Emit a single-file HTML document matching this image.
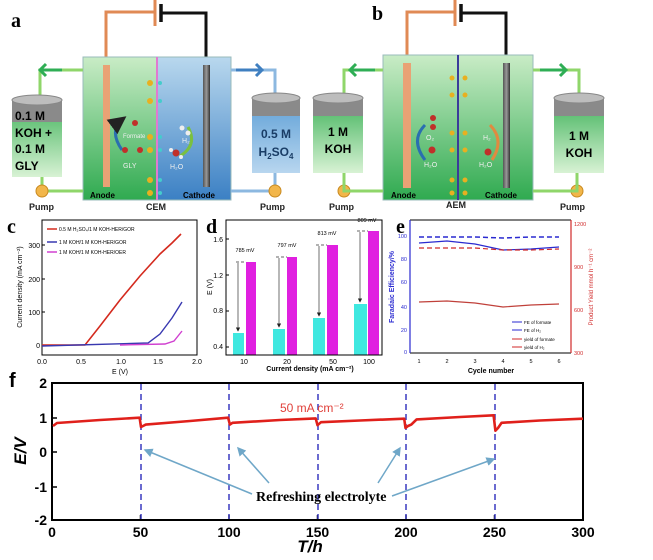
<!DOCTYPE html>
<html><head><meta charset="utf-8"><style>
html,body{margin:0;padding:0;background:#fff;}
svg{display:block;font-family:"Liberation Sans",sans-serif;}
</style></head><body>
<svg width="653" height="560" viewBox="0 0 653 560" xmlns="http://www.w3.org/2000/svg">
<defs>
<linearGradient id="gL" x1="0" y1="0" x2="0" y2="1"><stop offset="0" stop-color="#c9ecc6"/><stop offset="1" stop-color="#2faa50"/></linearGradient>
<linearGradient id="gB" x1="0" y1="0" x2="0" y2="1"><stop offset="0" stop-color="#b9d8ee"/><stop offset="1" stop-color="#3b80c4"/></linearGradient>
<linearGradient id="tG" x1="0" y1="0" x2="0" y2="1"><stop offset="0" stop-color="#3fb25a"/><stop offset="1" stop-color="#d8f2d4"/></linearGradient>
<linearGradient id="tB" x1="0" y1="0" x2="0" y2="1"><stop offset="0" stop-color="#5d9fd6"/><stop offset="1" stop-color="#b8d6ef"/></linearGradient>
<linearGradient id="cat" x1="0" y1="0" x2="1" y2="0"><stop offset="0" stop-color="#555"/><stop offset="0.5" stop-color="#999"/><stop offset="1" stop-color="#333"/></linearGradient>
<marker id="ah" markerWidth="6" markerHeight="6" refX="5" refY="3" orient="auto"><path d="M0,0 L6,3 L0,6 z" fill="#6fa7c8"/></marker>
<marker id="ak" markerWidth="6" markerHeight="6" refX="5" refY="3" orient="auto"><path d="M0,0 L6,3 L0,6 z" fill="#222"/></marker>
</defs>

<!-- ============ Panel a ============ -->
<text x="11" y="27" font-family="Liberation Serif" font-weight="bold" font-size="20">a</text>
<path d="M106,65 V12 H155" stroke="#e08a55" stroke-width="3" fill="none"/>
<line x1="155" y1="0" x2="155" y2="26" stroke="#e08a55" stroke-width="3"/>
<line x1="161" y1="4" x2="161" y2="22" stroke="#111" stroke-width="3.5"/>
<path d="M161,13 H206 V65" stroke="#111" stroke-width="3" fill="none"/>
<rect x="83" y="57" width="74" height="143" fill="url(#gL)" stroke="#9bb" stroke-width="1"/>
<rect x="157" y="57" width="74" height="143" fill="url(#gB)" stroke="#9bb" stroke-width="1"/>
<line x1="157" y1="57" x2="157" y2="200" stroke="#e07ad0" stroke-width="2"/>
<rect x="103" y="65" width="7" height="122" fill="#e9a275"/>
<rect x="203" y="65" width="7" height="122" fill="url(#cat)"/>
<g fill="#e8b020"><circle cx="150" cy="83" r="3"/><circle cx="150" cy="101" r="3"/><circle cx="150" cy="137" r="3"/><circle cx="150" cy="150" r="3"/><circle cx="150" cy="180" r="3"/><circle cx="150" cy="193" r="3"/></g>
<g fill="#4cc"><circle cx="160" cy="83" r="2"/><circle cx="160" cy="101" r="2"/><circle cx="160" cy="137" r="2"/><circle cx="160" cy="150" r="2"/><circle cx="160" cy="180" r="2"/><circle cx="160" cy="193" r="2"/></g>
<path d="M122,150 Q108,130 124,118" stroke="#2a6fb0" stroke-width="3" fill="none" marker-end="url(#ak)"/>
<path d="M188,127 Q198,145 180,156" stroke="#7ac040" stroke-width="3" fill="none"/>
<g fill="#c0302a"><circle cx="135" cy="123" r="3"/><circle cx="125" cy="150" r="3"/><circle cx="140" cy="150" r="3"/><circle cx="176" cy="153" r="3.5"/></g>
<g fill="#eee"><circle cx="182" cy="128" r="2.5"/><circle cx="188" cy="133" r="2.5"/><circle cx="171" cy="150" r="2"/><circle cx="181" cy="157" r="2"/></g>
<text x="123" y="138" font-size="6" fill="#eee">Formate</text>
<text x="123" y="168" font-size="7" fill="#eee">GLY</text>
<text x="182" y="143" font-size="7" fill="#eee">H₂</text>
<text x="170" y="169" font-size="7" fill="#eee">H₂O</text>
<text x="90" y="198" font-size="8" font-weight="bold">Anode</text>
<text x="183" y="198" font-size="8" font-weight="bold">Cathode</text>
<!-- pipes a -->
<path d="M83,70 H40 V97" stroke="#8fd66a" stroke-width="3" fill="none"/>
<path d="M46,64 L40,70 L46,76" stroke="#2fae55" stroke-width="3" fill="none"/>
<line x1="40" y1="70" x2="62" y2="70" stroke="#2fae55" stroke-width="3"/>
<path d="M231,70 H275 V97" stroke="#8cb8e0" stroke-width="3" fill="none"/>
<line x1="236" y1="70" x2="262" y2="70" stroke="#3f7fc0" stroke-width="3"/>
<path d="M256,64 L262,70 L256,76" stroke="#3f7fc0" stroke-width="3" fill="none"/>
<path d="M42,177 V191 H83" stroke="#8fd66a" stroke-width="3" fill="none"/>
<path d="M275,173 V191 H231" stroke="#8cb8e0" stroke-width="3" fill="none"/>
<!-- tanks a -->
<rect x="12" y="100" width="50" height="77" fill="url(#tG)"/>
<rect x="12" y="100" width="50" height="22" fill="#8a8a8a"/>
<ellipse cx="37" cy="100" rx="25" ry="5" fill="#bdbdbd" stroke="#888"/>
<text x="15" y="120" font-size="12" font-weight="bold">0.1 M</text>
<text x="15" y="137" font-size="12" font-weight="bold">KOH +</text>
<text x="15" y="153" font-size="12" font-weight="bold">0.1 M</text>
<text x="15" y="170" font-size="12" font-weight="bold">GLY</text>
<rect x="252" y="98" width="48" height="75" fill="url(#tB)"/>
<rect x="252" y="98" width="48" height="18" fill="#8a8a8a"/>
<ellipse cx="276" cy="98" rx="24" ry="5" fill="#bdbdbd" stroke="#888"/>
<text x="276" y="138" font-size="12" font-weight="bold" text-anchor="middle" fill="#1a3d66">0.5 M</text>
<text x="276" y="156" font-size="12" font-weight="bold" text-anchor="middle" fill="#1a3d66">H<tspan font-size="8" dy="3">2</tspan><tspan dy="-3">SO</tspan><tspan font-size="8" dy="3">4</tspan></text>
<!-- pumps -->
<g fill="#f2b64a" stroke="#c98a20"><circle cx="42" cy="191" r="6"/><circle cx="275" cy="191" r="6"/><circle cx="344" cy="191" r="6"/><circle cx="577" cy="191" r="6"/></g>
<g font-size="9" font-weight="bold" fill="#222"><text x="29" y="210">Pump</text><text x="260" y="210">Pump</text><text x="329" y="210">Pump</text><text x="560" y="210">Pump</text>
<text x="146" y="210">CEM</text><text x="446" y="208">AEM</text></g>

<!-- ============ Panel b ============ -->
<text x="372" y="20" font-family="Liberation Serif" font-weight="bold" font-size="20">b</text>
<path d="M407,65 V12 H455" stroke="#e08a55" stroke-width="3" fill="none"/>
<line x1="455" y1="0" x2="455" y2="26" stroke="#e08a55" stroke-width="3"/>
<line x1="461" y1="4" x2="461" y2="22" stroke="#111" stroke-width="3.5"/>
<path d="M461,13 H506 V65" stroke="#111" stroke-width="3" fill="none"/>
<rect x="383" y="55" width="150" height="145" fill="url(#gL)" stroke="#9bb" stroke-width="1"/>
<line x1="458" y1="55" x2="458" y2="200" stroke="#3b3b9a" stroke-width="2"/>
<rect x="403" y="63" width="8" height="125" fill="#e9a275"/>
<rect x="503" y="63" width="7" height="125" fill="url(#cat)"/>
<g fill="#e8b020"><circle cx="452" cy="78" r="2.5"/><circle cx="465" cy="78" r="2.5"/><circle cx="452" cy="95" r="2.5"/><circle cx="465" cy="95" r="2.5"/><circle cx="452" cy="133" r="2.5"/><circle cx="465" cy="133" r="2.5"/><circle cx="452" cy="150" r="2.5"/><circle cx="465" cy="150" r="2.5"/><circle cx="452" cy="180" r="2.5"/><circle cx="465" cy="180" r="2.5"/><circle cx="452" cy="193" r="2.5"/><circle cx="465" cy="193" r="2.5"/></g>
<path d="M425,160 Q410,140 425,125" stroke="#2a6fb0" stroke-width="3" fill="none"/>
<path d="M492,160 Q505,140 490,125" stroke="#e08a40" stroke-width="3" fill="none"/>
<g fill="#c0302a"><circle cx="433" cy="118" r="3"/><circle cx="433" cy="127" r="3"/><circle cx="432" cy="150" r="3.5"/><circle cx="488" cy="152" r="3.5"/></g>
<text x="426" y="140" font-size="7" fill="#eee">O₂</text>
<text x="424" y="167" font-size="7" fill="#eee">H₂O</text>
<text x="483" y="140" font-size="7" fill="#eee">H₂</text>
<text x="479" y="167" font-size="7" fill="#eee">H₂O</text>
<text x="391" y="198" font-size="8" font-weight="bold">Anode</text>
<text x="485" y="198" font-size="8" font-weight="bold">Cathode</text>
<path d="M383,70 H344 V97" stroke="#8fd66a" stroke-width="3" fill="none"/>
<line x1="350" y1="70" x2="375" y2="70" stroke="#2fae55" stroke-width="3"/>
<path d="M356,64 L350,70 L356,76" stroke="#2fae55" stroke-width="3" fill="none"/>
<path d="M533,70 H579 V97" stroke="#8fd66a" stroke-width="3" fill="none"/>
<line x1="540" y1="70" x2="566" y2="70" stroke="#2fae55" stroke-width="3"/>
<path d="M560,64 L566,70 L560,76" stroke="#2fae55" stroke-width="3" fill="none"/>
<path d="M344,173 V191 H383" stroke="#8fd66a" stroke-width="3" fill="none"/>
<path d="M577,173 V191 H533" stroke="#8fd66a" stroke-width="3" fill="none"/>
<rect x="313" y="98" width="50" height="75" fill="url(#tG)"/>
<rect x="313" y="98" width="50" height="18" fill="#8a8a8a"/>
<ellipse cx="338" cy="98" rx="25" ry="5" fill="#bdbdbd" stroke="#888"/>
<text x="338" y="136" font-size="12" font-weight="bold" text-anchor="middle">1 M</text>
<text x="338" y="153" font-size="12" font-weight="bold" text-anchor="middle">KOH</text>
<rect x="554" y="98" width="50" height="75" fill="url(#tG)"/>
<rect x="554" y="98" width="50" height="18" fill="#8a8a8a"/>
<ellipse cx="579" cy="98" rx="25" ry="5" fill="#bdbdbd" stroke="#888"/>
<text x="579" y="140" font-size="12" font-weight="bold" text-anchor="middle">1 M</text>
<text x="579" y="157" font-size="12" font-weight="bold" text-anchor="middle">KOH</text>

<!-- ============ Panel c ============ -->
<text x="7" y="233" font-family="Liberation Serif" font-weight="bold" font-size="20">c</text>
<rect x="42" y="220" width="155" height="135" fill="none" stroke="#000" stroke-width="1"/>
<g font-size="7" text-anchor="end"><text x="40" y="248">300</text><text x="40" y="282">200</text><text x="40" y="315">100</text><text x="40" y="348">0</text></g>
<g stroke="#000"><line x1="42" y1="245" x2="45" y2="245"/><line x1="42" y1="279" x2="45" y2="279"/><line x1="42" y1="312" x2="45" y2="312"/><line x1="42" y1="345" x2="45" y2="345"/></g>
<g font-size="7" text-anchor="middle"><text x="42" y="364">0.0</text><text x="81" y="364">0.5</text><text x="121" y="364">1.0</text><text x="158" y="364">1.5</text><text x="197" y="364">2.0</text></g>
<text x="120" y="374" font-size="7" text-anchor="middle">E (V)</text>
<text transform="translate(22,287) rotate(-90)" font-size="7" text-anchor="middle">Current density (mA cm⁻²)</text>
<polyline points="42,345 85,345 100,326 120,300 140,276 160,254 172,243 181,234" fill="none" stroke="#d42a1e" stroke-width="1.6"/>
<polyline points="42,346 148,343 160,334 172,318 182,302" fill="none" stroke="#3838b0" stroke-width="1.4"/>
<polyline points="120,345 165,344 174,341 182,331" fill="none" stroke="#d040d0" stroke-width="1.4"/>
<g font-size="5"><line x1="47" y1="229" x2="57" y2="229" stroke="#d42a1e" stroke-width="1.5"/><text x="59" y="231">0.5 M H₂SO₄/1 M KOH-HER/GOR</text>
<line x1="47" y1="242" x2="57" y2="242" stroke="#3838b0" stroke-width="1.5"/><text x="59" y="244">1 M KOH/1 M KOH-HER/GOR</text>
<line x1="47" y1="252" x2="57" y2="252" stroke="#d040d0" stroke-width="1.5"/><text x="59" y="254">1 M KOH/1 M KOH-HER/OER</text></g>

<!-- ============ Panel d ============ -->
<text x="206" y="233" font-family="Liberation Serif" font-weight="bold" font-size="20">d</text>
<g fill="#3fe8e0"><rect x="233" y="333" width="11" height="22"/><rect x="273" y="329" width="12" height="26"/><rect x="313" y="318" width="12" height="37"/><rect x="354" y="304" width="13" height="51"/></g>
<g fill="#e020e0"><rect x="246" y="262" width="10" height="93"/><rect x="287" y="257" width="10" height="98"/><rect x="327" y="245" width="11" height="110"/><rect x="368" y="231" width="11" height="124"/></g>
<rect x="226" y="220" width="156" height="135" fill="none" stroke="#000" stroke-width="1"/>
<g font-size="7" text-anchor="end"><text x="223" y="242">1.6</text><text x="223" y="278">1.2</text><text x="223" y="313">0.8</text><text x="223" y="349">0.4</text></g>
<g stroke="#000"><line x1="226" y1="239" x2="229" y2="239"/><line x1="226" y1="275" x2="229" y2="275"/><line x1="226" y1="311" x2="229" y2="311"/><line x1="226" y1="347" x2="229" y2="347"/></g>
<g stroke="#333" stroke-width="0.8" stroke-dasharray="3,2" fill="none"><path d="M236,262 H246"/><path d="M276,257 H287"/><path d="M316,245 H327"/><path d="M357,231 H368"/></g>
<g stroke="#333" stroke-width="0.7" marker-end="url(#ak)"><line x1="238" y1="263" x2="238" y2="331"/><line x1="279" y1="258" x2="279" y2="327"/><line x1="319" y1="246" x2="319" y2="316"/><line x1="360" y1="232" x2="360" y2="302"/></g>
<g font-size="5.5" text-anchor="middle"><text x="245" y="252">785 mV</text><text x="287" y="247">797 mV</text><text x="327" y="235">813 mV</text><text x="367" y="222">809 mV</text></g>
<text transform="translate(212,287) rotate(-90)" font-size="7" text-anchor="middle">E (V)</text>
<g font-size="7" text-anchor="middle"><text x="244" y="364">10</text><text x="287" y="364">20</text><text x="333" y="364">50</text><text x="369" y="364">100</text></g>
<text x="310" y="371" font-size="7" text-anchor="middle" font-weight="bold">Current density (mA cm⁻²)</text>

<!-- ============ Panel e ============ -->
<text x="396" y="233" font-family="Liberation Serif" font-weight="bold" font-size="20">e</text>
<line x1="410" y1="220" x2="571" y2="220" stroke="#000"/>
<line x1="410" y1="353" x2="571" y2="353" stroke="#000"/>
<line x1="410" y1="220" x2="410" y2="353" stroke="#2a2ad0" stroke-width="1.2"/>
<line x1="571" y1="220" x2="571" y2="353" stroke="#d02a2a" stroke-width="1.2"/>
<g font-size="5.5" text-anchor="end" fill="#2a2ad0"><text x="407" y="238">100</text><text x="407" y="261">80</text><text x="407" y="284">60</text><text x="407" y="309">40</text><text x="407" y="332">20</text><text x="407" y="354">0</text></g>
<g font-size="5.5" fill="#d02a2a"><text x="574" y="226">1200</text><text x="574" y="269">900</text><text x="574" y="312">600</text><text x="574" y="355">300</text></g>
<g font-size="5.5" text-anchor="middle"><text x="419" y="363">1</text><text x="447" y="363">2</text><text x="475" y="363">3</text><text x="503" y="363">4</text><text x="531" y="363">5</text><text x="559" y="363">6</text></g>
<text x="491" y="373" font-size="7" text-anchor="middle" font-weight="bold">Cycle number</text>
<text transform="translate(394,287) rotate(-90)" font-size="7" text-anchor="middle" fill="#2a2ad0" font-weight="bold">Faradaic Efficiency/%</text>
<text transform="translate(593,287) rotate(-90)" font-size="6" text-anchor="middle" fill="#d02a2a">Product Yield mmol h⁻¹ cm⁻²</text>
<polyline points="419,237 447,237 475,237 503,238 531,237 559,237" fill="none" stroke="#2a2ad0" stroke-width="1.5" stroke-dasharray="5,3"/>
<polyline points="419,243 447,241 475,244 503,250 531,249 559,247" fill="none" stroke="#2a2ad0" stroke-width="1.2"/>
<polyline points="419,248 447,248 475,248 503,250 531,250 559,249" fill="none" stroke="#d02a2a" stroke-width="1.2" stroke-dasharray="5,3"/>
<polyline points="419,302 447,301 475,303 503,307 531,305 559,304" fill="none" stroke="#c0403a" stroke-width="1.2"/>
<g font-size="4.5"><line x1="512" y1="322" x2="522" y2="322" stroke="#2a2ad0"/><text x="524" y="324">FE of formate</text>
<line x1="512" y1="330" x2="522" y2="330" stroke="#2a2ad0"/><text x="524" y="332">FE of H₂</text>
<line x1="512" y1="339" x2="522" y2="339" stroke="#d02a2a"/><text x="524" y="341">yield of formate</text>
<line x1="512" y1="347" x2="522" y2="347" stroke="#d02a2a"/><text x="524" y="349">yield of H₂</text></g>

<!-- ============ Panel f ============ -->
<text x="9" y="387" font-family="Liberation Sans" font-weight="bold" font-size="20">f</text>
<rect x="52" y="383" width="531" height="137" fill="none" stroke="#000" stroke-width="2"/>
<g font-size="14" font-weight="bold" text-anchor="end"><text x="47" y="388">2</text><text x="47" y="423">1</text><text x="47" y="457">0</text><text x="47" y="492">-1</text><text x="47" y="525">-2</text></g>
<g stroke="#000" stroke-width="1.5"><line x1="52" y1="418" x2="57" y2="418"/><line x1="52" y1="452" x2="57" y2="452"/><line x1="52" y1="487" x2="57" y2="487"/>
<line x1="140.5" y1="520" x2="140.5" y2="515"/><line x1="229" y1="520" x2="229" y2="515"/><line x1="317.5" y1="520" x2="317.5" y2="515"/><line x1="406" y1="520" x2="406" y2="515"/><line x1="494.5" y1="520" x2="494.5" y2="515"/></g>
<g font-size="14" font-weight="bold" text-anchor="middle"><text x="52" y="537">0</text><text x="140.5" y="537">50</text><text x="229" y="537">100</text><text x="317.5" y="537">150</text><text x="406" y="537">200</text><text x="494.5" y="537">250</text><text x="583" y="537">300</text></g>
<text x="310" y="552" font-size="17" font-weight="bold" font-style="italic" text-anchor="middle">T/h</text>
<text transform="translate(26,451) rotate(-90)" font-size="17" font-weight="bold" font-style="italic" text-anchor="middle">E/V</text>
<g stroke="#3a3ac0" stroke-width="1.5" stroke-dasharray="6,4"><line x1="141" y1="384" x2="141" y2="519"/><line x1="229" y1="384" x2="229" y2="519"/><line x1="318" y1="384" x2="318" y2="519"/><line x1="406" y1="384" x2="406" y2="519"/><line x1="495" y1="384" x2="495" y2="519"/></g>
<polyline points="53,426 57,423 100,420 139.6,417.7 141,427 143,426 145.8,424.6 190,421 228.1,417.7 229.9,424.6 232.5,422.8 280,420 315.7,418.4 317.5,425.2 321,422.2 360,420.5 404.2,418.7 405.5,428 408,426 411.3,424.6 416.6,419.4 460,417 493.6,415.3 495.4,430.7 498,428 501.6,422.8 540,420.5 583,418.7" fill="none" stroke="#e0201b" stroke-width="2.6" stroke-linejoin="round"/>
<text x="280" y="412" font-size="12" fill="#e0403a">50 mA cm⁻²</text>
<g stroke="#6fa7c8" stroke-width="1.5" marker-end="url(#ah)"><line x1="252" y1="494" x2="145" y2="450"/><line x1="269" y1="483" x2="238" y2="448"/><line x1="378" y1="483" x2="400" y2="448"/><line x1="392" y1="496" x2="494" y2="459"/></g>
<text x="256" y="501" font-family="Liberation Serif" font-weight="bold" font-size="14">Refreshing electrolyte</text>
</svg>
</body></html>
